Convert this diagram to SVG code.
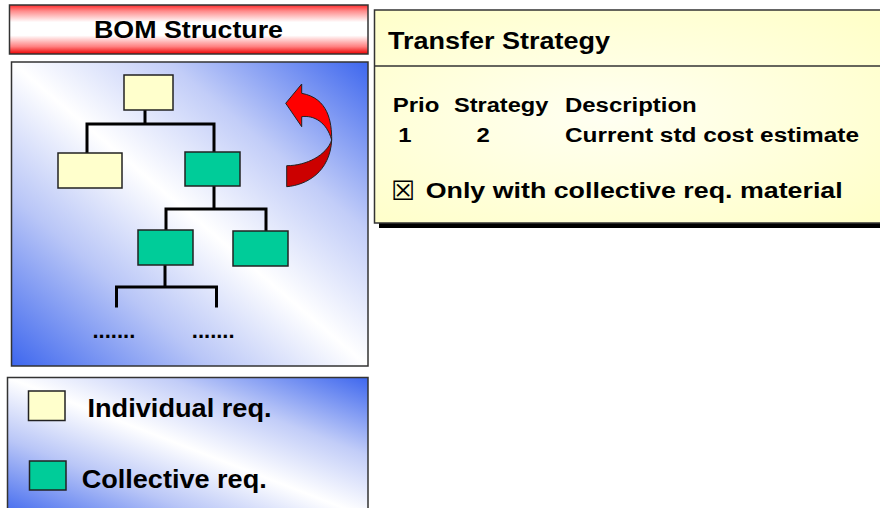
<svg xmlns="http://www.w3.org/2000/svg" width="880" height="508" viewBox="0 0 880 508">
  <defs>
    <linearGradient id="redBar" x1="0" y1="0" x2="0" y2="1">
      <stop offset="0" stop-color="#FF2A2A"/>
      <stop offset="0.12" stop-color="#FF8A8A"/>
      <stop offset="0.35" stop-color="#FFFFFF"/>
      <stop offset="0.62" stop-color="#FFFFFF"/>
      <stop offset="0.85" stop-color="#FF8080"/>
      <stop offset="1" stop-color="#EE0000"/>
    </linearGradient>
    <linearGradient id="blueDiag" x1="0" y1="1" x2="1" y2="0">
      <stop offset="0" stop-color="#3E67EE"/>
      <stop offset="0.28" stop-color="#B9C6F7"/>
      <stop offset="0.5" stop-color="#FFFFFF"/>
      <stop offset="0.72" stop-color="#C2CDF8"/>
      <stop offset="1" stop-color="#3E67EE"/>
    </linearGradient>
    <radialGradient id="yellowPanel" cx="0.45" cy="0.5" r="0.7">
      <stop offset="0" stop-color="#FFFFF2"/>
      <stop offset="1" stop-color="#FFFFC8"/>
    </radialGradient>
  </defs>
  <style>
    .t { font-family: "Liberation Sans", Arial, sans-serif; font-weight: bold; fill: #000; }
    .panel { stroke: #333; stroke-width: 1.5; }
    .box { stroke: #222; stroke-width: 1.5; }
    .ind { fill: #FFFFCC; }
    .col { fill: #00CC99; }
    .link { stroke: #000; stroke-width: 3; fill: none; stroke-linecap: square; }
  </style>

  <!-- BOM Structure header -->
  <g id="bom-header">
    <rect x="9.5" y="5" width="358.5" height="49" fill="url(#redBar)" class="panel"/>
    <text class="t" x="188.5" y="38.3" font-size="24" text-anchor="middle" textLength="189" lengthAdjust="spacingAndGlyphs">BOM Structure</text>
  </g>

  <!-- Tree panel background -->
  <g id="bom-panel">
    <rect x="11.5" y="62" width="356.5" height="304" fill="url(#blueDiag)" class="panel"/>
  </g>

  <!-- Connectors -->
  <g id="connectors">
    <path class="link" d="M145 110 V124 M87 124 H214 M87 124 V152 M214 124 V151"/>
    <path class="link" d="M214 187 V209 M166 209 H266 M166 209 V229 M266 209 V230"/>
    <path class="link" d="M165 266 V287 M116.5 287 H216.5 M116.5 287 V306 M216.5 287 V306"/>
  </g>

  <!-- Tree nodes -->
  <g id="node-root"><rect class="box ind" x="124" y="75" width="49" height="35"/></g>
  <g id="node-l1-left"><rect class="box ind" x="58" y="153" width="64" height="35"/></g>
  <g id="node-l1-right"><rect class="box col" x="185" y="152" width="55" height="34"/></g>
  <g id="node-l2-left"><rect class="box col" x="138" y="230" width="55" height="35"/></g>
  <g id="node-l2-right"><rect class="box col" x="233" y="231" width="55" height="35"/></g>
  <g id="dots-left"><text class="t" x="92.5" y="337.5" font-size="22">.......</text></g>
  <g id="dots-right"><text class="t" x="191.8" y="337.5" font-size="22">.......</text></g>

  <!-- Red curved arrow -->
  <g id="red-arrow" stroke="#222" stroke-width="1" stroke-linejoin="round">
    <path fill="#CC0000" d="M331.7 140 C330 172 306.7 185 286.7 186.7 L286.7 165.7 C306.7 165.7 326.7 155 331.7 140 Z"/>
    <path fill="#FF0000" d="M285.7 103.3 L301.7 84 L301.7 93.3 C328.3 98.3 331.7 121.7 331.7 140 C326.7 121.7 313.3 115 301.7 116.7 L301.7 126.7 Z"/>
  </g>

  <!-- Legend -->
  <g id="legend">
    <rect x="7.5" y="377.5" width="360.5" height="140" fill="url(#blueDiag)" class="panel"/>
    <g id="legend-individual">
      <rect class="box ind" x="28.5" y="391" width="36.5" height="29.5"/>
      <text class="t" x="87.5" y="417.3" font-size="26" textLength="184" lengthAdjust="spacingAndGlyphs">Individual req.</text>
    </g>
    <g id="legend-collective">
      <rect class="box col" x="29.5" y="461" width="36.5" height="29"/>
      <text class="t" x="81.7" y="488.3" font-size="26" textLength="185" lengthAdjust="spacingAndGlyphs">Collective req.</text>
    </g>
  </g>

  <!-- Transfer Strategy panel -->
  <g id="transfer-strategy">
    <rect x="379" y="15" width="520" height="213" fill="#000"/>
    <rect x="374.5" y="10" width="520" height="213" fill="url(#yellowPanel)" class="panel"/>
    <line x1="374.5" y1="66" x2="880" y2="66" stroke="#333" stroke-width="1.5"/>
    <text class="t" x="388" y="49.3" font-size="24.5" textLength="222" lengthAdjust="spacingAndGlyphs">Transfer Strategy</text>
    <text class="t" x="392.7" y="112.3" font-size="20" textLength="46.7" lengthAdjust="spacingAndGlyphs">Prio</text>
    <text class="t" x="454" y="112.3" font-size="20" textLength="94.3" lengthAdjust="spacingAndGlyphs">Strategy</text>
    <text class="t" x="565" y="112.3" font-size="20" textLength="131.7" lengthAdjust="spacingAndGlyphs">Description</text>
    <text class="t" x="398.2" y="141.7" font-size="20" textLength="13.3" lengthAdjust="spacingAndGlyphs">1</text>
    <text class="t" x="476.6" y="141.7" font-size="20" textLength="13.3" lengthAdjust="spacingAndGlyphs">2</text>
    <text class="t" x="565" y="141.7" font-size="20" textLength="294" lengthAdjust="spacingAndGlyphs">Current std cost estimate</text>
    <text x="391" y="200" font-family="'DejaVu Sans', sans-serif" font-size="27" textLength="24" lengthAdjust="spacingAndGlyphs" fill="#000">☒</text>
    <text class="t" x="425.7" y="197.7" font-size="22" textLength="417" lengthAdjust="spacingAndGlyphs">Only with collective req. material</text>
  </g>
</svg>
